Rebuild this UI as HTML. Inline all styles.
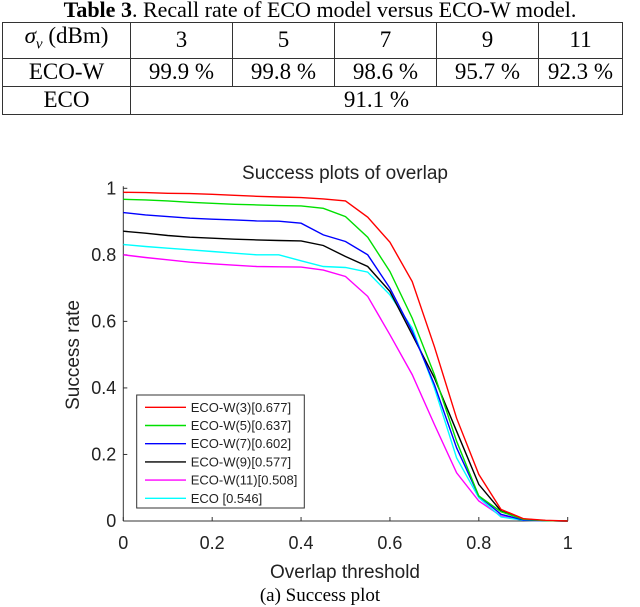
<!DOCTYPE html>
<html><head><meta charset="utf-8"><style>
body{margin:0;background:#fff;width:640px;height:607px;overflow:hidden;position:relative;font-family:"Liberation Serif",serif}
#title{position:absolute;left:0;top:-1px;width:640px;text-align:center;font-size:22px;line-height:22px;white-space:nowrap}
table{position:absolute;left:2px;top:22px;border-collapse:collapse;font-size:23px}
td{border:1.3px solid #333;text-align:center;height:27px;padding:0;line-height:26px;white-space:nowrap}
svg{position:absolute;left:0;top:0}
</style></head><body>
<div id="title"><b>Table 3</b>. Recall rate of ECO model versus ECO-W model.</div>
<table>
<tr><td style="width:127px"><i>σ<sub style="font-size:15px">v</sub></i> (dBm)</td><td style="width:101px">3</td><td style="width:101px">5</td><td style="width:101px">7</td><td style="width:101px">9</td><td style="width:83px">11</td></tr>
<tr><td>ECO-W</td><td>99.9 %</td><td>99.8 %</td><td>98.6 %</td><td>95.7 %</td><td>92.3 %</td></tr>
<tr><td>ECO</td><td colspan="5">91.1 %</td></tr>
</table>
<svg id="chart" width="640" height="607" font-family="Liberation Sans, sans-serif"></svg>
<script>
const xs=[0,0.05,0.1,0.15,0.2,0.25,0.3,0.35,0.4,0.45,0.5,0.55,0.6,0.65,0.7,0.75,0.8,0.85,0.9,0.95,1];
const red=[0.988,0.987,0.985,0.984,0.982,0.979,0.976,0.974,0.972,0.968,0.962,0.913,0.838,0.72,0.524,0.309,0.14,0.035,0.007,0.002,0];
const green=[0.967,0.965,0.962,0.958,0.955,0.952,0.95,0.948,0.947,0.94,0.915,0.853,0.75,0.61,0.44,0.24,0.075,0.028,0.005,0.001,0];
const blue=[0.927,0.92,0.915,0.91,0.907,0.905,0.902,0.901,0.895,0.86,0.84,0.8,0.70,0.57,0.41,0.22,0.075,0.02,0.003,0.001,0];
const black=[0.871,0.865,0.858,0.853,0.85,0.847,0.845,0.843,0.842,0.828,0.795,0.765,0.69,0.56,0.43,0.27,0.11,0.03,0.006,0.001,0];
const magenta=[0.80,0.792,0.785,0.778,0.773,0.769,0.765,0.764,0.763,0.754,0.735,0.675,0.56,0.44,0.29,0.145,0.06,0.015,0.002,0.001,0];
const cyan=[0.831,0.825,0.82,0.815,0.81,0.805,0.80,0.80,0.782,0.765,0.762,0.748,0.68,0.58,0.40,0.19,0.07,0.012,0.002,0.001,0];
const seriesNames=["ECO-W(3)[0.677]","ECO-W(5)[0.637]","ECO-W(7)[0.602]","ECO-W(9)[0.577]","ECO-W(11)[0.508]","ECO [0.546]"];
const xTicks=[0,0.2,0.4,0.6,0.8,1];
const yTicks=[0,0.2,0.4,0.6,0.8,1];
const xTickLabels=["0","0.2","0.4","0.6","0.8","1"];
const yTickLabels=["0","0.2","0.4","0.6","0.8","1"];
const X0=123.3,X1=567.7,Y0=521,Y1=188.3;
const sx=v=>X0+(X1-X0)*v, sy=v=>Y0-(Y0-Y1)*v;
const svg=document.getElementById('chart');const NS='http://www.w3.org/2000/svg';
function mk(t,a,txt){const e=document.createElementNS(NS,t);for(const k in a)e.setAttribute(k,a[k]);if(txt!==undefined)e.textContent=txt;svg.appendChild(e);return e;}
let e;
e=mk('text',{x:345,y:179,'font-size':19,'text-anchor':'middle',fill:'#222'},'Success plots of overlap');


e=mk('line',{x1:X0,y1:Y1-2,x2:X0,y2:Y0,stroke:'#333','stroke-width':1});


e=mk('line',{x1:X0,y1:Y0,x2:X1,y2:Y0,stroke:'#333','stroke-width':1});


xTicks.forEach((t,i)=>{mk('line',{x1:sx(t),y1:Y0,x2:sx(t),y2:Y0-4,stroke:'#333'});
e=mk('text',{x:sx(t),y:Y0+28,'font-size':18,'text-anchor':'middle',fill:'#222'},xTickLabels[i]);

});
yTicks.forEach((t,i)=>{mk('line',{x1:X0,y1:sy(t),x2:X0+4,y2:sy(t),stroke:'#333'});
e=mk('text',{x:X0-7,y:sy(t)+6,'font-size':18,'text-anchor':'end',fill:'#222'},yTickLabels[i]);

});
e=mk('text',{x:0,y:0,'font-size':19,'text-anchor':'middle',fill:'#222',transform:'translate(79,355) rotate(-90)'},'Success rate');


e=mk('text',{x:345,y:578,'font-size':19,'text-anchor':'middle',fill:'#222'},'Overlap threshold');


e=mk('text',{x:320,y:601,'font-size':19,'text-anchor':'middle',fill:'#000','font-family':'Liberation Serif, serif'},'(a)  Success plot');


const all=[red,green,blue,black,magenta,cyan];const cols=['#ff0000','#00e000','#0000ff','#000000','#ff00ff','#00ffff'];
const order=[4,5,3,2,1,0];
order.forEach(k=>{const d=all[k].map((v,i)=>(i?'L':'M')+sx(xs[i]).toFixed(1)+','+sy(v).toFixed(1)).join('');
e=mk('path',{d:d,fill:'none',stroke:cols[k],'stroke-width':1.4});

});
e=mk('rect',{x:136.7,y:395,width:167.6,height:113,fill:'#fff',stroke:'#333','stroke-width':1});


seriesNames.forEach((n,i)=>{const y=407.3+i*18.2;mk('line',{x1:145,y1:y,x2:186,y2:y,stroke:cols[i],'stroke-width':1.4});
e=mk('text',{x:190.7,y:y+4.5,'font-size':13,fill:'#222'},n);

});
</script>
</body></html>
